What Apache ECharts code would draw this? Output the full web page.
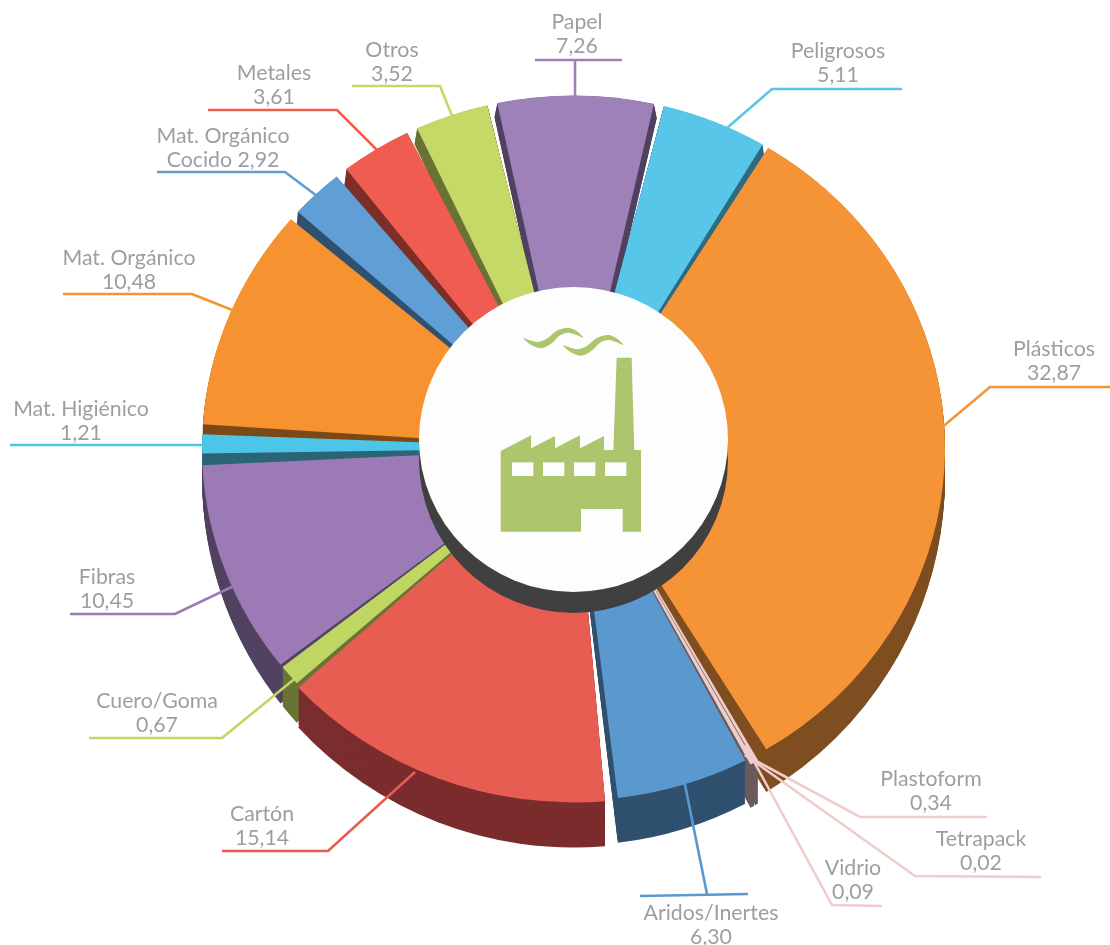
<!DOCTYPE html>
<html><head><meta charset="utf-8">
<style>html,body{margin:0;padding:0;background:#fff}#c{width:1110px;height:945px}</style>
<script src="https://cdn.jsdelivr.net/npm/echarts@6/dist/echarts.min.js"></script>
</head><body><div id="c"></div>
<script>
// ---- data ----
const categories = ['Plásticos','Plastoform','Tetrapack','Vidrio','Aridos/Inertes','Cartón','Cuero/Goma','Fibras','Mat. Higiénico','Mat. Orgánico','Mat. Orgánico\nCocido','Metales','Otros','Papel','Peligrosos'];
const values = [32.87,0.34,0.02,0.09,6.30,15.14,0.67,10.45,1.21,10.48,2.92,3.61,3.52,7.26,5.11];
// ---- styles ----
const topColors = ['#F59437','#EFCDCB','#EFCDCB','#EFCDCB','#5B98CE','#E85D52','#BFD762','#9B7AB5','#4DC5E8','#F6922F','#5F9FD6','#F05C4F','#C4D966','#9E81B8','#57C6E9'];
const sideColors = ['#7F4E20','#6B5A5E','#6B5A5E','#6B5A5E','#30506F','#7B2C2C','#687436','#524261','#2B6576','#7B4A17','#30506F','#7C2F28','#6B7238','#524261','#2F6B80'];
const lineColors = topColors;
// small exploded-slice offsets in degrees from the value-derived edges (drawing style only)
const edgeInset = [[-0.9,-1.1],[0,0],[0,0],[0,0],[0,-1.0],[0,-1.2],[-1.5,0.5],[0,-1.5],[-0.6,-0.8],[-0.2,-0.3],[0.3,-0.9],[0,-0.9],[-0.2,-0.4],[0.2,-0.6],[0,-0.9]];
const reach = [0,6,6,6,0,2,0,0,0,0,0,0,0,0,0];
// leader elbows and text anchors (annotation layout, index follows categories)
const leaders = [
 [[915,450],[990,387],[1110,387]],
 [[745,755],[860,817],[987,817]],
 [[745,755],[915,876],[1041,877]],
 [[745,745],[832,905],[882,906]],
 [[680,760],[707,894]],
 [[415,772],[328,851],[222,851]],
 [[330,650],[222,738],[89,738]],
 [[320,545],[175,614],[70,614]],
 [[230,445],[10,445]],
 [[270,325],[192,294],[63,294]],
 [[345,217],[285,172],[157,172]],
 [[392,165],[337,110],[208,110]],
 [[463,143],[440,86],[352,86]],
 [[575,130],[575,60]],
 [[690,160],[772,89],[902,89]]
];
const extraRules = {4:[[640,896],[748,894]],13:[[535,60],[622,60]]};
const labelAnchors = [[1054,361],[931,791],[981,851],[853,880],[711,925],[262,826],[157,713],[107,589],[81,421],[129,270],[223,148],[274,85],[392,62],[577,34],[838,63]];
const textColor = '#9D9EA1';
const labelFont = '400 21.3px Lato';

// ---- geometry ----
const cx = 573.5, cy = 448, rx = 371.5, ry = 352.5;
const depthY = 29, depthRy = 16, layers = 30;
const startDeg = 32, minHalf = 0.25, backFlare = 0.45;
const total = values.reduce((a,b)=>a+b,0);
const cum = []; values.reduce((a,v,i)=>(cum[i]=a, a+v),0);
const rad = d => (d-90)*Math.PI/180;
const midDeg = i => startDeg + (cum[i]+values[i]/2)/total*360;
function sector(i, t, color){
  const a0 = startDeg + cum[i]/total*360, a1 = a0 + values[i]/total*360;
  let s = a0+0.5+edgeInset[i][0], e = a1-0.5+edgeInset[i][1];
  if (e-s < 2*minHalf){ const m=(a0+a1)/2; s=m-minHalf; e=m+minHalf; }
  // walls of slices at the back lean slightly outwards
  if (Math.cos(midDeg(i)*Math.PI/180) > 0.3){ s -= backFlare*t; e += backFlare*t; }
  const y = cy + t*depthY, r = ry + t*depthRy, R = rx + reach[i];
  return {type:'sector', x:cx, y:y, scaleY:r/rx, silent:true,
    shape:{cx:0,cy:0,r:R,r0:0,startAngle:rad(s),endAngle:rad(e),clockwise:true},
    style:{fill:color}};
}
const z3 = (x,y)=>[400+x/3, 270+y/3];
const pts = a => a.map(p=>z3(p[0],p[1]));
const factory = pts([[302,785],[302,543],[393,496],[393,535],[465,498],[465,535],[540,496],[540,535],[612,498],[612,540],[640,540],[650,263],[695,263],[703,540],[723,540],[723,785],[668,785],[668,717],[543,717],[543,785]]);
const wave = [[370,205],[410,216],[440,206],[470,182],[505,173],[530,183],[550,203],[528,194],[505,188],[480,196],[455,220],[425,235],[395,226]];
const windows = [336,429,522,615];
const iconGreen = '#ADC56D';

const rows = values.map((v,i)=>[i,v]);
// back slices first so that nearer side walls overlap them
const backToFront = rows.slice().sort((a,b)=>Math.cos(midDeg(b[0])*Math.PI/180)-Math.cos(midDeg(a[0])*Math.PI/180));
const chart = echarts.init(document.getElementById('c'),null,{renderer:'canvas'});
chart.setOption({
  animation:false,
  backgroundColor:'#fff',
  series:[
    {type:'custom',name:'sides',coordinateSystem:'none',silent:true,z:1,data:backToFront,
      renderItem(p,api){
        const i=api.value(0), children=[];
        for(let k=layers;k>=1;k--) children.push(sector(i,k/layers,sideColors[i]));
        return {type:'group',children};
      }},
    {type:'custom',name:'leaders',coordinateSystem:'none',silent:true,z:2,data:rows,
      renderItem(p,api){
        const i=api.value(0);
        const children=[{type:'polyline',shape:{points:leaders[i]},style:{stroke:lineColors[i],lineWidth:2.6,fill:null}}];
        if(extraRules[i]) children.push({type:'polyline',shape:{points:extraRules[i]},style:{stroke:lineColors[i],lineWidth:2.6,fill:null}});
        return {type:'group',children};
      }},
    {type:'custom',name:'tops',coordinateSystem:'none',silent:true,z:3,data:rows,
      renderItem(p,api){ const i=api.value(0); return sector(i,0,topColors[i]); }},
    {type:'custom',name:'labels',coordinateSystem:'none',silent:true,z:6,data:rows,
      renderItem(p,api){
        const i=api.value(0), v=api.value(1).toFixed(2).replace('.',',');
        const name=categories[i];
        const txt=name+(name.indexOf('\n')>=0?' ':'\n')+v;
        return {type:'text',x:labelAnchors[i][0],y:labelAnchors[i][1],
          style:{text:txt,font:labelFont,fill:textColor,align:'center',verticalAlign:'middle',lineHeight:24}};
      }}
  ],
  graphic:{elements:[
    {type:'circle',z:4,x:573.5,y:460,scaleY:153/154.5,shape:{cx:0,cy:0,r:154.5},style:{fill:'#404040'},silent:true},
    {type:'circle',z:5,x:573.5,y:439.5,scaleY:152.5/154.5,shape:{cx:0,cy:0,r:154.5},style:{fill:'#FDFDFD'},silent:true},
    {type:'polygon',z:6,shape:{points:factory},style:{fill:iconGreen},silent:true},
    ...windows.map(x=>({type:'rect',z:7,shape:{x:400+x/3,y:270+577/3,width:64/3,height:41/3},style:{fill:'#FDFDFD'},silent:true})),
    {type:'polygon',z:6,shape:{points:pts(wave),smooth:0.3},style:{fill:iconGreen},silent:true},
    {type:'polygon',z:6,shape:{points:pts(wave.map(p=>[p[0]+120,p[1]+22])),smooth:0.3},style:{fill:iconGreen},silent:true}
  ]}
});
</script></body></html>
